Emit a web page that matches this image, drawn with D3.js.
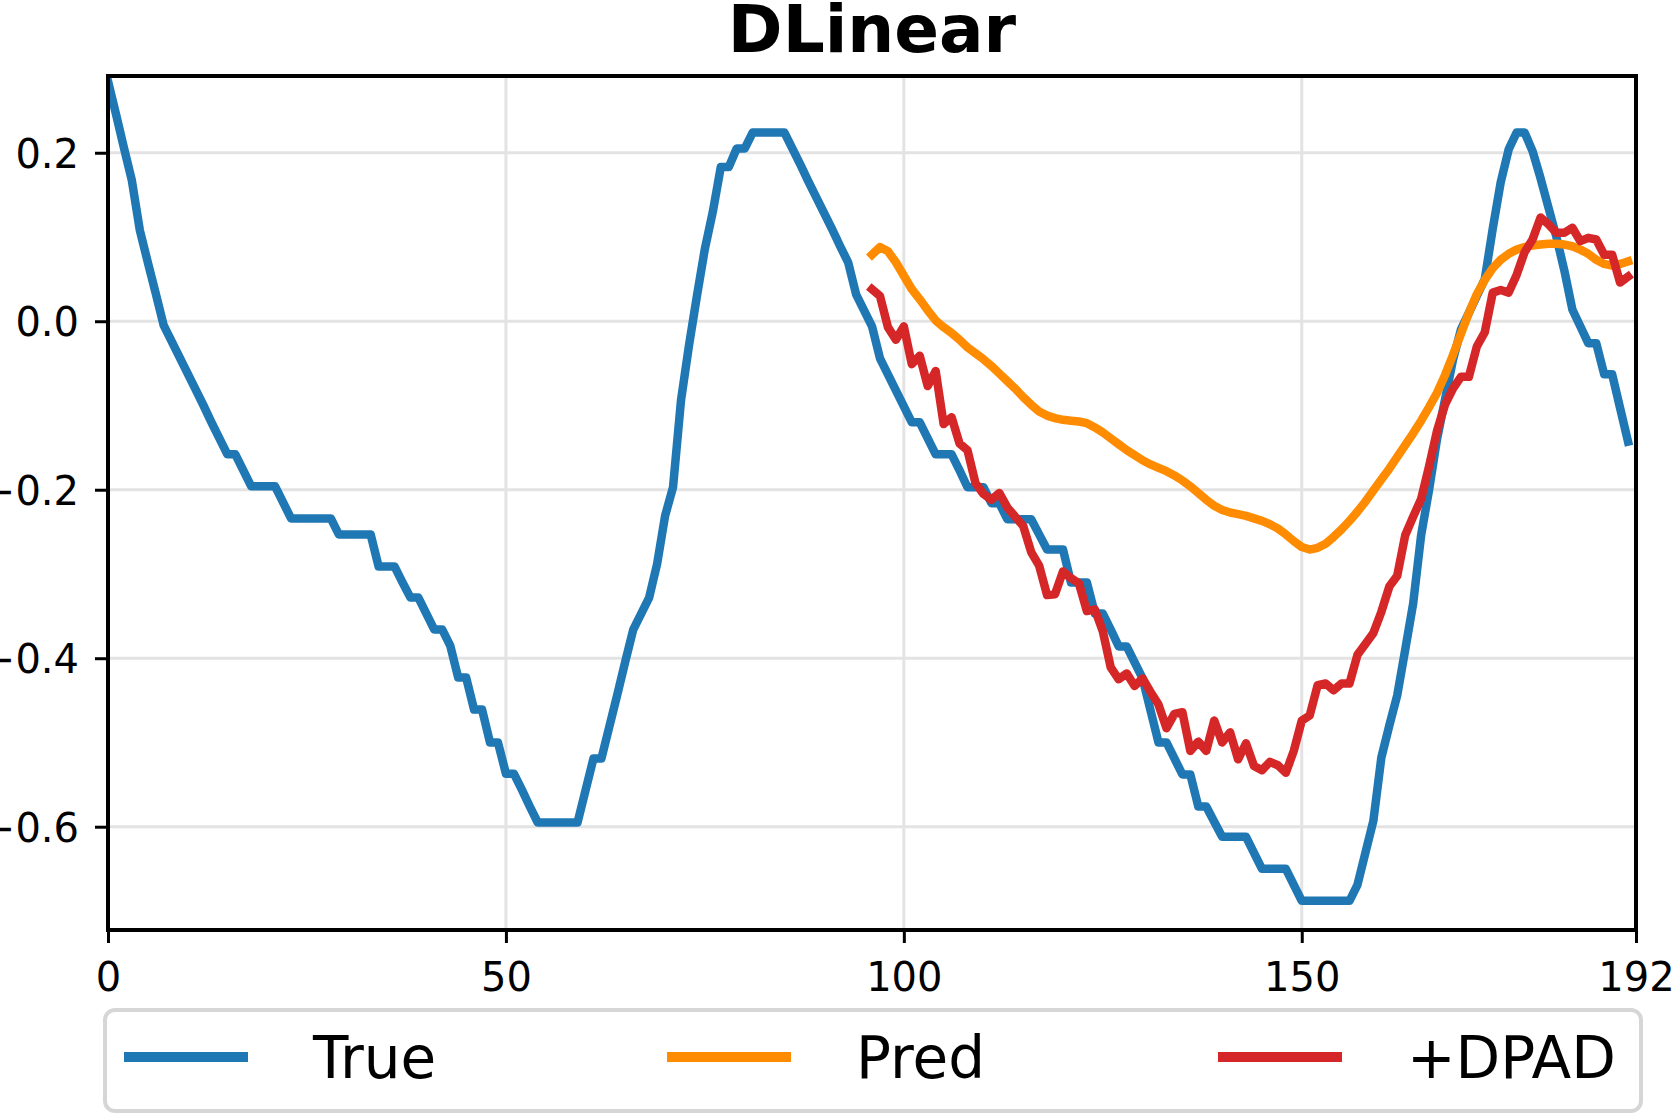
<!DOCTYPE html>
<html lang="en">

<head>
   <meta charset="utf-8">
   <script src="https://d3js.org/d3.v7.min.js"></script>
   <title>DLinear</title>
   <style>
      body { margin: 0; background: #ffffff; }
      text { font-family: "DejaVu Sans", sans-serif; }
   </style>
</head>

<body>

   <!-- Line Chart -->
   <div id="chart"></div>

   <script type="text/javascript">

      // Ground truth, steps 0 - 191
      var trueValues = [
         0.285, 0.246, 0.206, 0.167, 0.108, 0.070, 0.033, -0.005, -0.024, -0.043,
         -0.062, -0.081, -0.100, -0.120, -0.139, -0.158, -0.158, -0.177, -0.196, -0.196,
         -0.196, -0.196, -0.215, -0.234, -0.234, -0.234, -0.234, -0.234, -0.234, -0.253,
         -0.253, -0.253, -0.253, -0.253, -0.291, -0.291, -0.291, -0.310, -0.328, -0.328,
         -0.347, -0.366, -0.366, -0.385, -0.423, -0.423, -0.461, -0.461, -0.500, -0.500,
         -0.537, -0.537, -0.556, -0.576, -0.595, -0.595, -0.595, -0.595, -0.595, -0.595,
         -0.557, -0.519, -0.519, -0.481, -0.443, -0.404, -0.366, -0.347, -0.328, -0.288,
         -0.231, -0.197, -0.094, -0.029, 0.030, 0.086, 0.130, 0.183, 0.183, 0.205,
         0.205, 0.224, 0.224, 0.224, 0.224, 0.224, 0.205, 0.186, 0.166, 0.147,
         0.128, 0.109, 0.089, 0.070, 0.032, 0.013, -0.006, -0.044, -0.063, -0.082,
         -0.101, -0.120, -0.120, -0.139, -0.158, -0.158, -0.158, -0.177, -0.197, -0.197,
         -0.197, -0.216, -0.216, -0.235, -0.235, -0.235, -0.235, -0.253, -0.271, -0.271,
         -0.271, -0.310, -0.310, -0.310, -0.347, -0.347, -0.366, -0.386, -0.386, -0.405,
         -0.424, -0.462, -0.500, -0.500, -0.519, -0.538, -0.538, -0.576, -0.576, -0.594,
         -0.612, -0.612, -0.612, -0.612, -0.631, -0.650, -0.650, -0.650, -0.650, -0.669,
         -0.688, -0.688, -0.688, -0.688, -0.688, -0.688, -0.688, -0.669, -0.631, -0.593,
         -0.518, -0.480, -0.444, -0.390, -0.335, -0.254, -0.200, -0.140, -0.093, -0.046,
         -0.010, 0.010, 0.030, 0.050, 0.110, 0.165, 0.204, 0.224, 0.224, 0.202,
         0.170, 0.135, 0.100, 0.060, 0.014, -0.006, -0.026, -0.026, -0.063, -0.063,
         -0.103, -0.143
      ];

      // DLinear prediction, steps 96 - 191
      var predValues = [
         0.079, 0.088, 0.083, 0.070, 0.054, 0.038, 0.026, 0.013, 0.001, -0.007,
         -0.014, -0.022, -0.031, -0.038, -0.045, -0.053, -0.062, -0.071, -0.080, -0.090,
         -0.099, -0.107, -0.112, -0.115, -0.117, -0.118, -0.119, -0.121, -0.126, -0.132,
         -0.139, -0.146, -0.153, -0.159, -0.165, -0.170, -0.174, -0.178, -0.183, -0.189,
         -0.196, -0.204, -0.212, -0.219, -0.224, -0.227, -0.229, -0.231, -0.234, -0.237,
         -0.241, -0.246, -0.253, -0.261, -0.268, -0.271, -0.269, -0.264, -0.256, -0.247,
         -0.237, -0.226, -0.214, -0.201, -0.188, -0.175, -0.161, -0.147, -0.133, -0.118,
         -0.102, -0.085, -0.064, -0.040, -0.015, 0.010, 0.032, 0.049, 0.063, 0.073,
         0.080, 0.085, 0.088, 0.090, 0.091, 0.092, 0.092, 0.091, 0.089, 0.085,
         0.080, 0.073, 0.068, 0.066, 0.068, 0.071
      ];

      // DLinear + DPAD prediction, steps 96 - 191
      var dpadValues = [
         0.038, 0.030, -0.007, -0.022, -0.006, -0.051, -0.041, -0.077, -0.059, -0.122,
         -0.114, -0.145, -0.153, -0.192, -0.205, -0.212, -0.204, -0.221, -0.232, -0.243,
         -0.274, -0.290, -0.325, -0.324, -0.297, -0.305, -0.311, -0.344, -0.342, -0.368,
         -0.411, -0.425, -0.418, -0.433, -0.424, -0.440, -0.455, -0.483, -0.466, -0.464,
         -0.510, -0.499, -0.510, -0.474, -0.500, -0.488, -0.520, -0.501, -0.528, -0.533,
         -0.523, -0.527, -0.536, -0.510, -0.474, -0.468, -0.432, -0.430, -0.438, -0.430,
         -0.430, -0.396, -0.383, -0.370, -0.345, -0.315, -0.302, -0.254, -0.232, -0.211,
         -0.172, -0.130, -0.099, -0.080, -0.066, -0.066, -0.030, -0.013, 0.034, 0.037,
         0.034, 0.055, 0.082, 0.097, 0.123, 0.115, 0.105, 0.105, 0.111, 0.095,
         0.099, 0.097, 0.079, 0.079, 0.046, 0.053
      ];

      var trueStart = 0;
      var predStart = 96;

      var seriesNames = ["True", "Pred", "+DPAD"];
      var seriesColors = ["#1f77b4", "#ff8c00", "#d62728"];

      var xTicks = [0, 50, 100, 150, 192];
      var yTicks = [-0.6, -0.4, -0.2, 0.0, 0.2];
      var titleText = "DLinear";

      // Page and plot dimensions
      var width = 1673, height = 1115;
      var margin = { top: 76, right: 37, bottom: 185, left: 108 };
      var plotW = width - margin.left - margin.right,
         plotH = height - margin.top - margin.bottom;

      var svg = d3.select("#chart")
         .append("svg")
         .attr("width", width)
         .attr("height", height)
         .style("display", "block");

      var g = svg.append("g")
         .attr("transform", "translate(" + margin.left + "," + margin.top + ")");

      // Scales
      var x = d3.scaleLinear().domain([0, 192]).range([0, plotW]);
      var y = d3.scaleLinear().domain([-0.7226, 0.2911]).range([plotH, 0]);

      // Clip lines to the axes box
      svg.append("defs").append("clipPath")
         .attr("id", "plotClip")
         .append("rect")
         .attr("width", plotW)
         .attr("height", plotH);

      // Grid lines
      g.selectAll(".vgrid")
         .data(xTicks)
         .enter()
         .append("line")
         .attr("class", "vgrid")
         .attr("x1", d => x(d))
         .attr("x2", d => x(d))
         .attr("y1", 0)
         .attr("y2", plotH)
         .attr("stroke", "#e3e3e3")
         .attr("stroke-width", 3);

      g.selectAll(".hgrid")
         .data(yTicks)
         .enter()
         .append("line")
         .attr("class", "hgrid")
         .attr("x1", 0)
         .attr("x2", plotW)
         .attr("y1", d => y(d))
         .attr("y2", d => y(d))
         .attr("stroke", "#e3e3e3")
         .attr("stroke-width", 3);

      // Build point lists for each series
      function toPoints(values, start) {
         return values.map((v, i) => ({ "x": start + i, "y": v }));
      }

      var series = [
         toPoints(trueValues, trueStart),
         toPoints(predValues, predStart),
         toPoints(dpadValues, predStart)
      ];

      var line = d3.line()
         .x(d => x(d.x))
         .y(d => y(d.y));

      g.append("g")
         .attr("clip-path", "url(#plotClip)")
         .selectAll("path")
         .data(series)
         .enter()
         .append("path")
         .attr("d", d => line(d))
         .attr("fill", "none")
         .attr("stroke", (_, i) => seriesColors[i])
         .attr("stroke-width", 8.5)
         .attr("stroke-linejoin", "round")
         .attr("stroke-linecap", "square");

      // Axes with outward ticks
      var xAxis = g.append("g")
         .attr("transform", "translate(0," + plotH + ")")
         .call(d3.axisBottom(x).tickValues(xTicks).tickSize(13).tickPadding(20)
            .tickFormat(d3.format("d")));

      var yAxis = g.append("g")
         .call(d3.axisLeft(y).tickValues(yTicks).tickSize(13).tickPadding(16)
            .tickFormat(d => d3.format(".1f")(d).replace("-", "\u2212")));

      [xAxis, yAxis].forEach(function (ax) {
         ax.select(".domain").remove();
         ax.selectAll(".tick line")
            .attr("stroke", "#000")
            .attr("stroke-width", 3);
         ax.selectAll(".tick text")
            .attr("fill", "#000")
            .style("font-family", "DejaVu Sans")
            .style("font-size", "40px");
      });

      yAxis.selectAll(".tick text").attr("dy", "0.36em");

      // Axes frame
      g.append("rect")
         .attr("width", plotW)
         .attr("height", plotH)
         .attr("fill", "none")
         .attr("stroke", "#000")
         .attr("stroke-width", 4);

      // Title
      svg.append("text")
         .attr("x", margin.left + plotW / 2)
         .attr("y", 52)
         .attr("text-anchor", "middle")
         .style("font-family", "DejaVu Sans")
         .style("font-weight", "bold")
         .style("font-size", "66px")
         .text(titleText);

      // Legend box
      var legend = svg.append("g");

      legend.append("rect")
         .attr("x", 105)
         .attr("y", 1010)
         .attr("width", 1536)
         .attr("height", 101)
         .attr("rx", 10)
         .attr("fill", "#fff")
         .attr("stroke", "#d6d6d6")
         .attr("stroke-width", 4);

      var legendX = [124, 667, 1218];

      legend.selectAll(".handle")
         .data(seriesNames)
         .enter()
         .append("line")
         .attr("class", "handle")
         .attr("x1", (_, i) => legendX[i])
         .attr("x2", (_, i) => legendX[i] + 124)
         .attr("y1", 1057)
         .attr("y2", 1057)
         .attr("stroke", (_, i) => seriesColors[i])
         .attr("stroke-width", 10);

      legend.selectAll(".label")
         .data(seriesNames)
         .enter()
         .append("text")
         .attr("class", "label")
         .attr("x", (_, i) => legendX[i] + 189)
         .attr("y", 1078)
         .style("font-family", "DejaVu Sans")
         .style("font-size", "58px")
         .text(d => d);

   </script>
</body>

</html>
